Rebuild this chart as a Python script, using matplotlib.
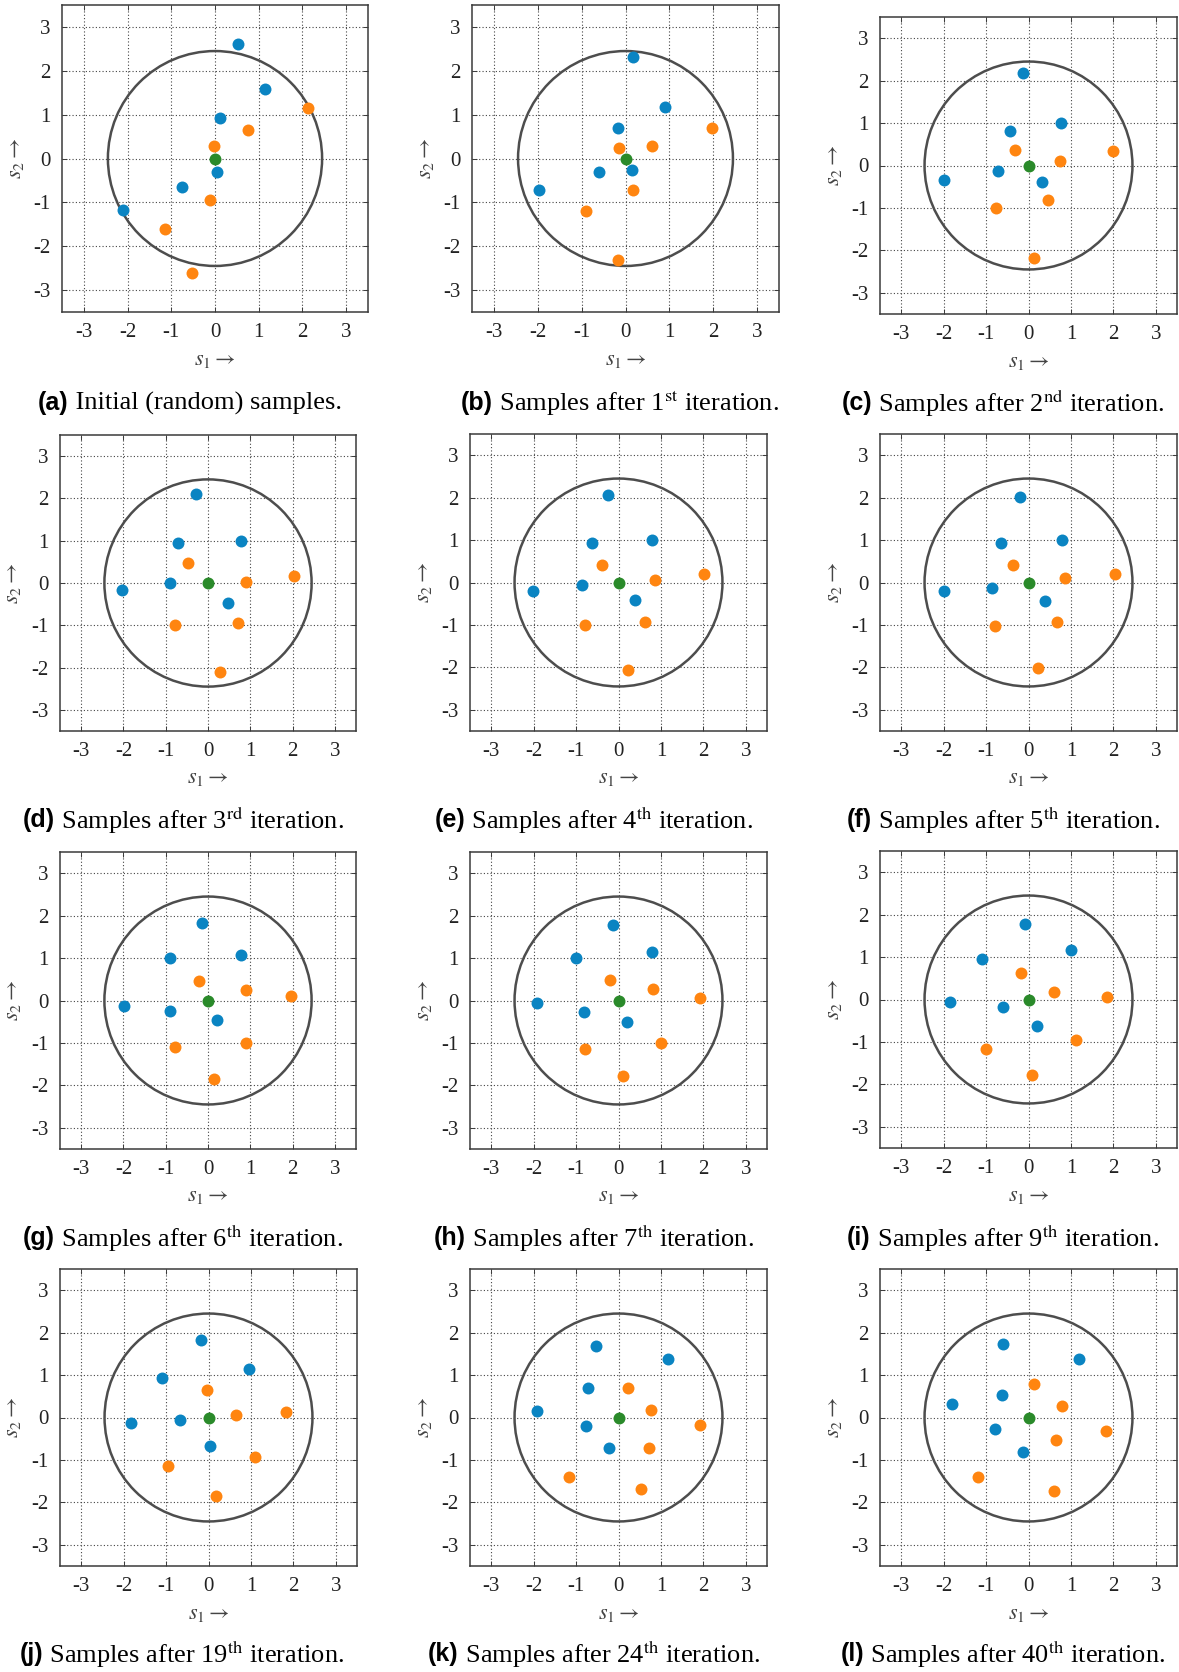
import matplotlib
matplotlib.use("Agg")
import matplotlib.pyplot as plt
from matplotlib.patches import Circle

plt.rcParams['mathtext.fontset'] = 'stix'
plt.rcParams['font.family'] = ['Liberation Serif', 'DejaVu Serif']

# ---------------- data (s1, s2) ----------------
MEAN = (0.0, 0.0)
RADIUS = 2.45

blue_a = [(0.53, 2.60), (1.15, 1.59), (0.12, 0.93), (0.04, -0.30), (-0.76, -0.66), (-2.11, -1.18)]
orange_a = [(2.12, 1.16), (0.76, 0.65), (-0.03, 0.29), (-0.11, -0.94), (-1.14, -1.61), (-0.53, -2.61)]

blue_b = [(0.17, 2.31), (0.90, 1.18), (-0.17, 0.70), (0.14, -0.26), (-0.60, -0.30), (-1.98, -0.71)]
orange_b = [(1.97, 0.70), (0.60, 0.29), (-0.14, 0.24), (0.17, -0.71), (-0.89, -1.20), (-0.17, -2.32)]

blue_c = [(-0.14, 2.17), (0.76, 0.99), (-0.44, 0.81), (-0.73, -0.12), (-1.98, -0.35), (0.32, -0.38)]
orange_c = [(2.00, 0.34), (-0.32, 0.37), (0.74, 0.11), (0.46, -0.81), (-0.76, -1.00), (0.14, -2.17)]

blue_d = [(-0.29, 2.10), (0.78, 0.99), (-0.70, 0.95), (-0.89, -0.01), (-2.04, -0.17), (0.47, -0.47)]
orange_d = [(-0.48, 0.48), (2.04, 0.17), (0.89, 0.02), (0.70, -0.94), (-0.79, -0.99), (0.29, -2.10)]

blue_e = [(-0.25, 2.06), (0.78, 0.99), (-0.63, 0.93), (-0.87, -0.07), (-2.01, -0.20), (0.40, -0.42)]
orange_e = [(-0.40, 0.42), (2.01, 0.19), (0.86, 0.06), (0.62, -0.94), (-0.79, -1.00), (0.23, -2.07)]

blue_f = [(-0.20, 2.01), (0.79, 1.00), (-0.65, 0.93), (-0.85, -0.13), (-2.00, -0.20), (0.38, -0.43)]
orange_f = [(-0.36, 0.42), (2.03, 0.19), (0.87, 0.10), (0.67, -0.94), (-0.78, -1.03), (0.23, -2.02)]

blue_g = [(-0.15, 1.83), (0.78, 1.08), (-0.89, 1.00), (-1.98, -0.13), (-0.89, -0.25), (0.22, -0.46)]
orange_g = [(-0.22, 0.45), (0.89, 0.24), (1.96, 0.11), (0.89, -1.01), (-0.79, -1.09), (0.15, -1.84)]

blue_h = [(-0.12, 1.77), (0.79, 1.14), (-0.99, 1.00), (-1.92, -0.06), (-0.81, -0.27), (0.20, -0.50)]
orange_h = [(-0.20, 0.49), (0.81, 0.27), (1.92, 0.06), (0.99, -1.01), (-0.78, -1.14), (0.11, -1.78)]

blue_i = [(-0.09, 1.79), (1.00, 1.16), (-1.10, 0.96), (-1.84, -0.06), (-0.60, -0.17), (0.20, -0.63)]
orange_i = [(-0.18, 0.63), (0.61, 0.17), (1.84, 0.06), (1.13, -0.96), (-0.99, -1.16), (0.09, -1.79)]

blue_j = [(-0.17, 1.83), (0.95, 1.14), (-1.10, 0.93), (-1.83, -0.12), (-0.66, -0.06), (0.04, -0.66)]
orange_j = [(-0.04, 0.65), (0.65, 0.06), (1.83, 0.12), (1.10, -0.94), (-0.96, -1.15), (0.17, -1.84)]

blue_k = [(-0.53, 1.68), (1.17, 1.38), (-0.73, 0.69), (-1.92, 0.16), (-0.76, -0.20), (-0.22, -0.72)]
orange_k = [(0.22, 0.69), (0.76, 0.18), (1.92, -0.18), (0.72, -0.72), (-1.17, -1.40), (0.53, -1.69)]

blue_l = [(-0.60, 1.73), (1.20, 1.39), (-0.62, 0.52), (-1.81, 0.31), (-0.78, -0.28), (-0.13, -0.82)]
orange_l = [(0.14, 0.80), (0.79, 0.27), (1.82, -0.32), (0.64, -0.54), (-1.20, -1.40), (0.61, -1.74)]

tick_values = [-3, -2, -1, 0, 1, 2, 3]
tick_labels = ["-3", "-2", "-1", "0", "1", "2", "3"]

panel_letters = ["(a)", "(b)", "(c)", "(d)", "(e)", "(f)", "(g)", "(h)", "(i)", "(j)", "(k)", "(l)"]
panel_texts = [
    "Initial (random) samples.",
    r"Samples after 1$^{\mathrm{st}}$ iteration.",
    r"Samples after 2$^{\mathrm{nd}}$ iteration.",
    r"Samples after 3$^{\mathrm{rd}}$ iteration.",
    r"Samples after 4$^{\mathrm{th}}$ iteration.",
    r"Samples after 5$^{\mathrm{th}}$ iteration.",
    r"Samples after 6$^{\mathrm{th}}$ iteration.",
    r"Samples after 7$^{\mathrm{th}}$ iteration.",
    r"Samples after 9$^{\mathrm{th}}$ iteration.",
    r"Samples after 19$^{\mathrm{th}}$ iteration.",
    r"Samples after 24$^{\mathrm{th}}$ iteration.",
    r"Samples after 40$^{\mathrm{th}}$ iteration.",
]

blues = [blue_a, blue_b, blue_c, blue_d, blue_e, blue_f, blue_g, blue_h, blue_i, blue_j, blue_k, blue_l]
oranges = [orange_a, orange_b, orange_c, orange_d, orange_e, orange_f, orange_g, orange_h, orange_i, orange_j, orange_k, orange_l]

# ---------------- layout (pixels) ----------------
W, H = 1179, 1672
axes_px = [
    (62, 5, 368, 312), (472, 5, 779, 312), (880, 17, 1177, 314),
    (60, 435, 356, 731), (470, 434, 767, 731), (880, 434, 1177, 731),
    (60, 852, 356, 1149), (470, 852, 767, 1149), (880, 851, 1177, 1148),
    (60, 1269, 357, 1566), (470, 1269, 767, 1566), (880, 1269, 1177, 1566),
]
caption_px = [
    (190, 403), (620, 403), (1003, 403),
    (183, 820), (594, 820), (1003, 820),
    (183, 1238), (594, 1238), (1003, 1238),
    (182, 1654), (594, 1654), (1003, 1654),
]

BLUE = '#0A84C2'
ORANGE = '#FF8510'
GREEN = '#2A8A2A'
FRAME = '#3a3a3a'

fig = plt.figure(figsize=(W / 100, H / 100), dpi=100)

for idx in range(12):
    x0, y0, x1, y1 = axes_px[idx]
    ax = fig.add_axes([x0 / W, 1 - y1 / H, (x1 - x0) / W, (y1 - y0) / H])
    ax.set_xlim(-3.5, 3.5)
    ax.set_ylim(-3.5, 3.5)
    ax.set_xticks(tick_values)
    ax.set_yticks(tick_values)
    ax.set_xticklabels(tick_labels, fontsize=15)
    ax.set_yticklabels(tick_labels, fontsize=15)
    ax.tick_params(direction='in', length=3.5, width=0.7, color=FRAME,
                   top=True, right=True, pad=8, labelcolor='#222222')
    ax.grid(True, linestyle=(0, (1, 2.0)), color='#444444', linewidth=0.8)
    ax.set_axisbelow(True)
    for sp in ax.spines.values():
        sp.set_color(FRAME)
        sp.set_linewidth(1.1)
    circ = Circle(MEAN, RADIUS, fill=False, edgecolor='#4d4d4d', linewidth=1.8, zorder=2)
    ax.add_patch(circ)
    bx = [p[0] for p in blues[idx]]
    by = [p[1] for p in blues[idx]]
    ox = [p[0] for p in oranges[idx]]
    oy = [p[1] for p in oranges[idx]]
    ax.plot(bx, by, 'o', color=BLUE, markersize=8.6, markeredgewidth=0, zorder=3)
    ax.plot(ox, oy, 'o', color=ORANGE, markersize=8.6, markeredgewidth=0, zorder=3)
    ax.plot([MEAN[0]], [MEAN[1]], 'o', color=GREEN, markersize=8.6, markeredgewidth=0, zorder=4)
    ax.set_xlabel(r'$s_1 \rightarrow$', fontsize=16, color='#444444', va='center', ha='center')
    ax.set_ylabel(r'$s_2 \rightarrow$', fontsize=16, color='#444444', va='center', ha='center')
    wpx = x1 - x0
    hpx = y1 - y0
    ax.xaxis.set_label_coords(0.5, -(48.0 / hpx))
    ax.yaxis.set_label_coords(-(46.0 / wpx), 0.5)

# captions: bold sans letter + serif text, centred as a pair
renderer = fig.canvas.get_renderer()
for idx in range(12):
    cx, cy = caption_px[idx]
    t1 = fig.text(0, 1 - cy / H, panel_letters[idx], fontsize=18, fontweight='bold',
                  family=['Liberation Sans', 'DejaVu Sans'], va='center', ha='left')
    t2 = fig.text(0, 1 - cy / H, " " + panel_texts[idx], fontsize=19,
                  family=['Liberation Serif', 'DejaVu Serif'], va='center', ha='left')
    w1 = t1.get_window_extent(renderer).width
    w2 = t2.get_window_extent(renderer).width
    start = cx - (w1 + w2) / 2
    t1.set_x(start / W)
    t2.set_x((start + w1) / W)

fig.savefig('out.png', dpi=100)
